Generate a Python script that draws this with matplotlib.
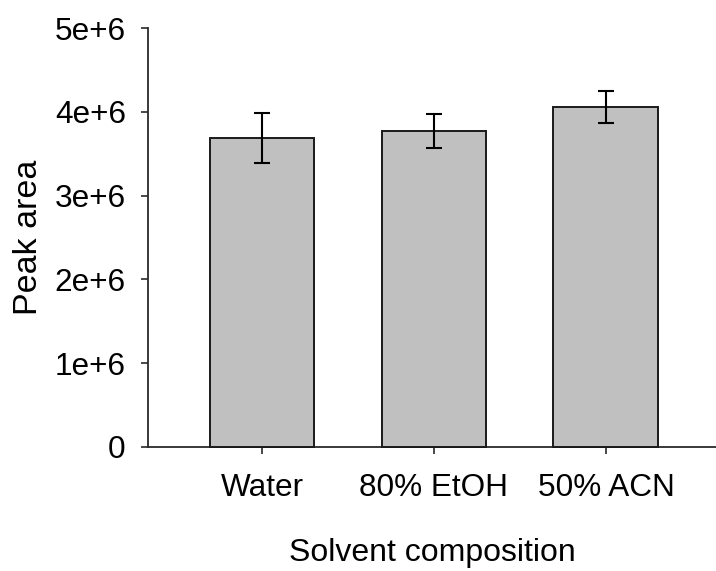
import matplotlib
matplotlib.use("Agg")
import matplotlib.pyplot as plt

plt.rcParams['font.family'] = ['Liberation Sans', 'DejaVu Sans']

categories = ["Water", "80% EtOH", "50% ACN"]
peak_area = [3.69e6, 3.77e6, 4.06e6]
peak_err = [0.30e6, 0.20e6, 0.19e6]
y_ticks = [0, 1e6, 2e6, 3e6, 4e6, 5e6]
y_tick_labels = ["0", "1e+6", "2e+6", "3e+6", "4e+6", "5e+6"]

fig = plt.figure(figsize=(7.16, 5.71), dpi=100)
ax = fig.add_axes([148/716, 1-447/571, (716-148)/716, (447-28)/571])

x = list(range(len(categories)))
ax.bar(x, peak_area, width=0.61, color="#c0c0c0", edgecolor="#1a1a1a",
       linewidth=1.4, zorder=3, clip_on=False)
ax.errorbar(x, peak_area, yerr=peak_err, fmt="none", ecolor="black",
            elinewidth=1.5, capsize=5.5, capthick=1.5, zorder=4)

ax.set_xlim(-0.663, 2.64)
ax.set_ylim(0, 5e6)
ax.set_yticks(y_ticks)
ax.set_yticklabels(y_tick_labels)
ax.set_xticks(x)
ax.set_xticklabels(categories)

for s in ["top", "right"]:
    ax.spines[s].set_visible(False)
for s in ["left", "bottom"]:
    ax.spines[s].set_linewidth(1.3)
    ax.spines[s].set_color("#2a2a2a")

ax.tick_params(axis="y", direction="out", length=5, width=1.2, pad=11,
               labelsize=22.7, color="#2a2a2a")
ax.tick_params(axis="x", direction="out", length=5, width=1.2, pad=14,
               labelsize=22.7, color="#2a2a2a")

ax.set_xlabel("Solvent composition", fontsize=23, labelpad=25)
ax.set_ylabel("Peak area", fontsize=24.5, labelpad=8)

fig.savefig("out.png", dpi=100, facecolor="white")
